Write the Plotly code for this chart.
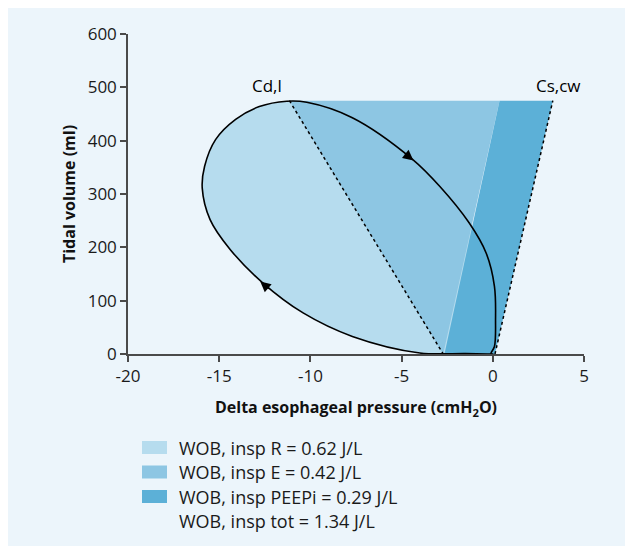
import plotly.graph_objects as go

# Pressure-volume loop (cmH2O, ml)
loop_p = [0.0, -0.3, -1.5, -4.0, -7.7, -10.4, -12.6, -14.4, -15.5, -15.93, -15.8, -15.2, -14.1, -12.8, -11.3,
          -10.2, -7.7, -4.4, -2.9, -1.3, -0.36, 0.09, 0.15, 0.09, -0.1, 0.0]
loop_v = [0, 0, 1, 2, 33, 77, 133, 196, 252, 311, 352, 402, 440, 464, 474,
          472, 443, 365, 314, 246, 189, 127, 64, 14, 1, 0]

vt = 475
cdl_p = [-11.15, -2.72]          # dynamic lung compliance line
cdl_v = [vt, 0]
cscw_p = [0.12, 3.29]           # static chest wall compliance line
cscw_v = [0, vt]
peepi_left_p = [-2.65, 0.37]    # left edge of PEEPi area
peepi_left_v = [0, vt]

x_ticks = [-20, -15, -10, -5, 0, 5]
x_ticklabels = ["-20", "-15", "-10", "-5", "0", "5"]
y_ticks = [0, 100, 200, 300, 400, 500, 600]

legend_labels = ["WOB, insp R = 0.62 J/L", "WOB, insp E = 0.42 J/L",
                 "WOB, insp PEEPi = 0.29 J/L", "WOB, insp tot = 1.34 J/L"]
c_light, c_mid, c_dark = "#b6dcee", "#8dc6e3", "#5cb0d7"

fig = go.Figure()
# R area: loop interior
fig.add_trace(go.Scatter(x=loop_p, y=loop_v, mode="lines", fill="toself", fillcolor=c_light,
                         line=dict(width=0, shape="spline"), hoverinfo="skip", showlegend=False))
# E area: triangle between Cd,l line and PEEPi edge
fig.add_trace(go.Scatter(x=[cdl_p[0], peepi_left_p[1], cdl_p[1], cdl_p[0]],
                         y=[cdl_v[0], peepi_left_v[1], cdl_v[1], cdl_v[0]],
                         mode="lines", fill="toself", fillcolor=c_mid, line=dict(width=0),
                         hoverinfo="skip", showlegend=False))
# PEEPi area
fig.add_trace(go.Scatter(x=[peepi_left_p[0], cscw_p[0], cscw_p[1], peepi_left_p[1], peepi_left_p[0]],
                         y=[peepi_left_v[0], cscw_v[0], cscw_v[1], peepi_left_v[1], peepi_left_v[0]],
                         mode="lines", fill="toself", fillcolor=c_dark, line=dict(width=0),
                         hoverinfo="skip", showlegend=False))
# loop outline
fig.add_trace(go.Scatter(x=loop_p, y=loop_v, mode="lines",
                         line=dict(color="black", width=1.6, shape="spline"), showlegend=False))
# compliance lines
fig.add_trace(go.Scatter(x=cdl_p, y=cdl_v, mode="lines", line=dict(color="black", width=1.5, dash="dot"),
                         showlegend=False))
fig.add_trace(go.Scatter(x=cscw_p, y=cscw_v, mode="lines", line=dict(color="black", width=1.5, dash="dot"),
                         showlegend=False))

font = "Open Sans"
ann = [
    dict(x=-12.38, y=504, text="Cd,l", showarrow=False, font=dict(size=17, color="black", family=font)),
    dict(x=3.6, y=504, text="Cs,cw", showarrow=False, font=dict(size=17, color="black", family=font)),
    # direction arrows
    dict(x=-4.35, y=363, ax=-10, ay=-8, xref="x", yref="y", text="",
         showarrow=True, arrowhead=2, arrowsize=1.5, arrowwidth=1.4, arrowcolor="black", standoff=0),
    dict(x=-12.75, y=136, ax=10, ay=8.6, xref="x", yref="y", text="",
         showarrow=True, arrowhead=2, arrowsize=1.5, arrowwidth=1.4, arrowcolor="black", standoff=0),
]
shapes = []
# custom legend
swatch_cols = [c_light, c_mid, c_dark, None]
ys_px = [439.5, 464, 488.5, 513]   # figure pixel rows (page has 8px body margin)
for lab, col, ypx in zip(legend_labels, swatch_cols, ys_px):
    yp = (346 - ypx) / 320
    if col:
        shapes.append(dict(type="rect", xref="paper", yref="paper",
                           x0=(134 - 120) / 456, x1=(159 - 120) / 456,
                           y0=yp - 6.5 / 320, y1=yp + 6.5 / 320, fillcolor=col, line=dict(width=0)))
    ann.append(dict(xref="paper", yref="paper", x=(168.5 - 120) / 456, y=yp, xanchor="left", yanchor="middle",
                    text=lab, showarrow=False, font=dict(size=18, color="#1a1a1a", family=font)))

fig.update_layout(
    width=625, height=538,
    margin=dict(l=120, r=49, t=26, b=192),
    paper_bgcolor="#ecf5fb", plot_bgcolor="rgba(0,0,0,0)",
    font=dict(family=font, size=16, color="#1a1a1a"),
    annotations=ann, shapes=shapes,
    xaxis=dict(range=[-20, 5], tickvals=x_ticks, ticktext=x_ticklabels, showgrid=False, zeroline=False,
               showline=True, linecolor="#4a4a4a", linewidth=1.5, ticks="outside", ticklen=6, tickcolor="#4a4a4a",
               tickwidth=1.5, tickfont=dict(size=17),
               title=dict(text="Delta esophageal pressure (cmH<sub>2</sub>O)",
                          font=dict(size=16, weight="bold", color="#111"), standoff=16)),
    yaxis=dict(range=[0, 600], tickvals=y_ticks, showgrid=False, zeroline=False,
               showline=True, linecolor="#4a4a4a", linewidth=1.5, ticks="outside", ticklen=6, tickcolor="#4a4a4a",
               tickwidth=1.5, tickfont=dict(size=17),
               title=dict(text="Tidal volume (ml)", font=dict(size=16, weight="bold", color="#111"), standoff=8)),
)
fig.write_html("out.html")
